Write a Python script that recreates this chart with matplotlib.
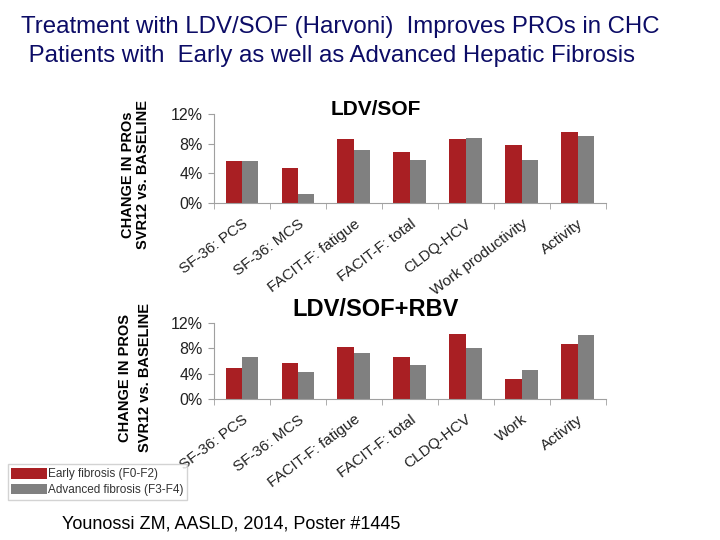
import numpy as np
import matplotlib
matplotlib.use('Agg')
import matplotlib.pyplot as plt
from matplotlib.ticker import FuncFormatter, FixedLocator

plt.rcParams['font.family'] = ['Liberation Sans', 'DejaVu Sans']

# -------------------------- data --------------------------
labels_top = ['SF-36: PCS', 'SF-36: MCS', 'FACIT-F: fatigue', 'FACIT-F: total',
              'CLDQ-HCV', 'Work productivity', 'Activity']
early_top = [5.7, 4.7, 8.6, 6.9, 8.6, 7.8, 9.6]
adv_top = [5.6, 1.2, 7.1, 5.8, 8.8, 5.8, 9.0]

labels_bot = ['SF-36: PCS', 'SF-36: MCS', 'FACIT-F: fatigue', 'FACIT-F: total',
              'CLDQ-HCV', 'Work', 'Activity']
early_bot = [4.8, 5.7, 8.2, 6.6, 10.3, 3.2, 8.7]
adv_bot = [6.6, 4.3, 7.2, 5.4, 8.0, 4.6, 10.2]

yticks = [0, 4, 8, 12]
series_names = ['Early fibrosis (F0-F2)', 'Advanced fibrosis (F3-F4)']

RED = '#a91f23'
GRAY = '#808080'
AXC = '#a0a0a0'

fig = plt.figure(figsize=(7.2, 5.4), dpi=100)
fig.patch.set_facecolor('white')


def draw_panel(ax, labels, early, adv):
    n = len(labels)
    x = np.arange(n) + 0.5
    w = 0.29
    b1 = ax.bar(x - w / 2, early, w, color=RED, label=series_names[0])
    b2 = ax.bar(x + w / 2, adv, w, color=GRAY, label=series_names[1])
    ax.set_xlim(0, n)
    ax.set_ylim(0, 12)
    ax.set_yticks(yticks)
    ax.yaxis.set_major_formatter(FuncFormatter(lambda v, p: f'{int(v)}%'))
    ax.tick_params(axis='y', length=4, color=AXC, labelsize=11.5, pad=4,
                   labelcolor='#222222')
    # labels at group centers, tick marks at group boundaries
    ax.xaxis.set_major_locator(FixedLocator(x))
    ax.set_xticklabels(labels, rotation=37, ha='right', rotation_mode='anchor',
                       fontsize=11, color='#222222')
    ax.tick_params(axis='x', which='major', length=0, pad=10)
    ax.xaxis.set_minor_locator(FixedLocator(np.arange(n + 1)))
    ax.tick_params(axis='x', which='minor', length=4, color=AXC, direction='out')
    for s in ['top', 'right']:
        ax.spines[s].set_visible(False)
    for s in ['left', 'bottom']:
        ax.spines[s].set_color(AXC)
    return b1, b2


ax1 = fig.add_axes([0.297, 0.624, 0.544, 0.165])
h1, h2 = draw_panel(ax1, labels_top, early_top, adv_top)

ax2 = fig.add_axes([0.297, 0.262, 0.544, 0.139])
draw_panel(ax2, labels_bot, early_bot, adv_bot)

# panel titles (centred a little left of the axes centre, as in the slide)
fig.text(0.522, 0.798, 'LDV/SOF', fontsize=15, fontweight='bold',
         ha='center', va='center')
fig.text(0.522, 0.427, 'LDV/SOF+RBV', fontsize=17, fontweight='bold',
         ha='center', va='center')

# y labels (two bold lines, rotated)
fig.text(0.178, 0.677, 'CHANGE IN PROs', rotation=90, fontsize=10.5,
         fontweight='bold', ha='center', va='center')
fig.text(0.198, 0.677, 'SVR12 vs. BASELINE', rotation=90, fontsize=10.5,
         fontweight='bold', ha='center', va='center')
fig.text(0.173, 0.300, 'CHANGE IN PROS', rotation=90, fontsize=10.5,
         fontweight='bold', ha='center', va='center')
fig.text(0.201, 0.300, 'SVR12 vs. BASELINE', rotation=90, fontsize=10.5,
         fontweight='bold', ha='center', va='center')

# slide title
fig.text(0.029, 0.950, 'Treatment with LDV/SOF (Harvoni)  Improves PROs in CHC',
         fontsize=17.3, color='#0c0c66', ha='left', va='center')
fig.text(0.030, 0.897, ' Patients with  Early as well as Advanced Hepatic Fibrosis',
         fontsize=17.3, color='#0c0c66', ha='left', va='center')

# legend
leg = fig.legend(handles=[h1, h2], labels=series_names, loc='upper left',
                 bbox_to_anchor=(0.011, 0.140), fontsize=8.5, frameon=True,
                 fancybox=False, edgecolor='#c8c8c8', handlelength=3.0,
                 handleheight=1.0, handletextpad=0.1, borderpad=0.3,
                 labelspacing=0.3, borderaxespad=0)
for t in leg.get_texts():
    t.set_color('#333333')

# footer
fig.text(0.086, 0.030, 'Younossi ZM, AASLD, 2014, Poster #1445', fontsize=13,
         ha='left', va='center')

fig.savefig('out.png', dpi=100, facecolor='white')
